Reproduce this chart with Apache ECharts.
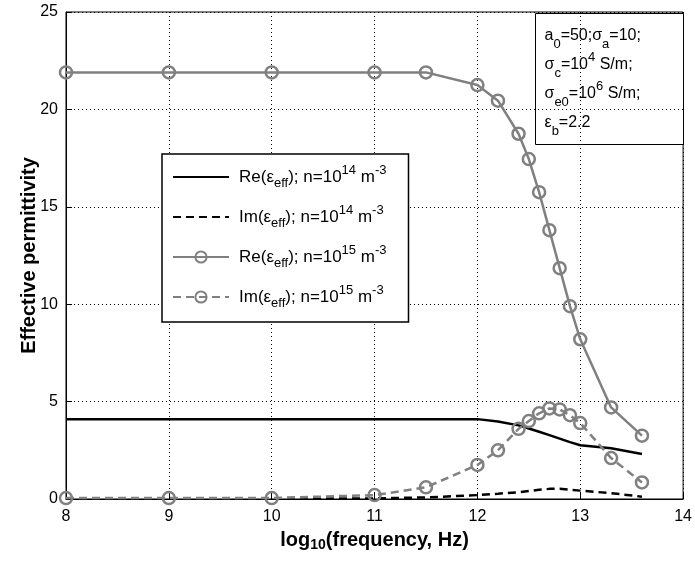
<!DOCTYPE html>
<html>
<head>
<meta charset="utf-8">
<script src="https://cdn.jsdelivr.net/npm/echarts@6/dist/echarts.min.js"></script>
<style>
  html, body { margin: 0; padding: 0; background: #fff; }
  #chart { width: 695px; height: 564px; }
</style>
</head>
<body>
<div id="chart"></div>
<script>
// log10 of frequency (Hz)
var freq = [8, 9, 10, 11, 11.5, 12, 12.2, 12.4, 12.5, 12.6, 12.7, 12.8, 12.9, 13, 13.3, 13.6];
// n = 1e14 m^-3
var re14 = [4.1, 4.1, 4.1, 4.1, 4.1, 4.1, 3.98, 3.78, 3.62, 3.45, 3.28, 3.1, 2.92, 2.76, 2.6, 2.31];
var im14 = [0.02, 0.02, 0.02, 0.03, 0.08, 0.2, 0.27, 0.35, 0.41, 0.47, 0.52, 0.53, 0.48, 0.43, 0.3, 0.12];
// n = 1e15 m^-3
var re15 = [21.9, 21.9, 21.9, 21.9, 21.9, 21.25, 20.45, 18.75, 17.45, 15.75, 13.8, 11.85, 9.9, 8.2, 4.7, 3.25];
var im15 = [0.05, 0.05, 0.05, 0.2, 0.6, 1.75, 2.5, 3.6, 4.0, 4.4, 4.65, 4.6, 4.3, 3.9, 2.1, 0.85];

var legendText = {
  re14: 'Re(ε{sub|eff}); n=10{sup|14} m{sup|-3}',
  im14: 'Im(ε{sub|eff}); n=10{sup|14} m{sup|-3}',
  re15: 'Re(ε{sub|eff}); n=10{sup|15} m{sup|-3}',
  im15: 'Im(ε{sub|eff}); n=10{sup|15} m{sup|-3}'
};

function pairs(ys) {
  return freq.map(function (x, i) { return [x, ys[i]]; });
}

var FONT = 'Liberation Sans, Arial, sans-serif';
var GRAY = '#808080';

var myChart = echarts.init(document.getElementById('chart'));
var option = {
  animation: false,
  backgroundColor: '#fff',
  textStyle: { fontFamily: FONT },
  grid: {
    left: 66, right: 9, top: 12, bottom: 65,
    show: true, borderColor: '#000', borderWidth: 1
  },
  xAxis: {
    type: 'value', min: 8, max: 14, interval: 1,
    name: 'log{s|10}(frequency, Hz)',
    nameLocation: 'middle', nameGap: 29,
    nameTextStyle: {
      fontFamily: FONT, fontSize: 20, fontWeight: 'bold', color: '#000', lineHeight: 22,
      rich: { s: { fontFamily: FONT, fontSize: 14, fontWeight: 'bold', color: '#000', lineHeight: 12, verticalAlign: 'bottom' } }
    },
    axisLine: { lineStyle: { color: '#000', width: 1 } },
    axisTick: { inside: true, length: 6, lineStyle: { color: '#000' } },
    axisLabel: { color: '#000', fontSize: 16, margin: 10, fontFamily: FONT },
    splitLine: { show: true, lineStyle: { color: '#000', type: [1, 3], width: 1 } }
  },
  yAxis: {
    type: 'value', min: 0, max: 25, interval: 5,
    name: 'Effective permittivity',
    nameLocation: 'middle', nameGap: 27, nameMoveOverlap: false,
    nameTextStyle: { fontFamily: FONT, fontSize: 20, fontWeight: 'bold', color: '#000' },
    axisLine: { show: true, lineStyle: { color: '#000', width: 1 } },
    axisTick: { show: true, inside: true, length: 6, lineStyle: { color: '#000' } },
    axisLabel: { color: '#000', fontSize: 16, margin: 8, fontFamily: FONT },
    splitLine: { show: true, lineStyle: { color: '#000', type: [1, 3], width: 1 } }
  },
  legend: {
    orient: 'vertical',
    left: 162, top: 154,
    padding: [10, 22, 12, 10],
    backgroundColor: '#fff',
    borderColor: '#000', borderWidth: 1.5,
    itemWidth: 56, itemHeight: 14, itemGap: 14,
    data: [
      { name: 're14', itemStyle: { opacity: 0 } },
      { name: 'im14', itemStyle: { opacity: 0 } },
      're15', 'im15'
    ],
    formatter: function (name) { return legendText[name]; },
    textStyle: {
      fontFamily: FONT, fontSize: 17, color: '#000', lineHeight: 26, padding: [0, 0, 0, 5],
      rich: {
        sub: { fontFamily: FONT, fontSize: 13, color: '#000', lineHeight: 10, verticalAlign: 'bottom' },
        sup: { fontFamily: FONT, fontSize: 13, color: '#000', lineHeight: 10, verticalAlign: 'top' }
      }
    }
  },
  graphic: [{
    type: 'group',
    left: 535, top: 13,
    children: [{
      type: 'rect',
      shape: { x: 0, y: 0, width: 148, height: 131 },
      style: { fill: '#fff', stroke: '#000', lineWidth: 1 }
    }, {
      type: 'text',
      x: 9, y: 8,
      style: {
        text: 'a{sub|0}=50;σ{sub|a}=10;\nσ{sub|c}=10{sup|4} S/m;\nσ{sub|e0}=10{sup|6} S/m;\nε{sub|b}=2.2',
        font: '16px ' + FONT,
        fill: '#000',
        lineHeight: 29,
        rich: {
          sub: { fontSize: 13, fontFamily: FONT, fill: '#000', lineHeight: 14, verticalAlign: 'bottom' },
          sup: { fontSize: 13, fontFamily: FONT, fill: '#000', lineHeight: 14, verticalAlign: 'top' }
        }
      }
    }]
  }],
  series: [{
    name: 're14', type: 'line', data: pairs(re14),
    showSymbol: false, symbol: 'none', clip: false,
    lineStyle: { color: '#000', width: 2.5 }, itemStyle: { color: '#000' }
  }, {
    name: 'im14', type: 'line', data: pairs(im14),
    showSymbol: false, symbol: 'none', clip: false,
    lineStyle: { color: '#000', width: 2.5, type: [8, 5] }, itemStyle: { color: '#000' }
  }, {
    name: 're15', type: 'line', data: pairs(re15),
    symbol: 'circle', symbolSize: 12, clip: false,
    lineStyle: { color: GRAY, width: 2.5 },
    itemStyle: { color: 'rgba(0,0,0,0)', borderColor: GRAY, borderWidth: 2.5 }
  }, {
    name: 'im15', type: 'line', data: pairs(im15),
    symbol: 'circle', symbolSize: 12, clip: false,
    lineStyle: { color: GRAY, width: 2.5, type: [8, 5] },
    itemStyle: { color: 'rgba(0,0,0,0)', borderColor: GRAY, borderWidth: 2.5 }
  }]
};
myChart.setOption(option);
</script>
</body>
</html>
